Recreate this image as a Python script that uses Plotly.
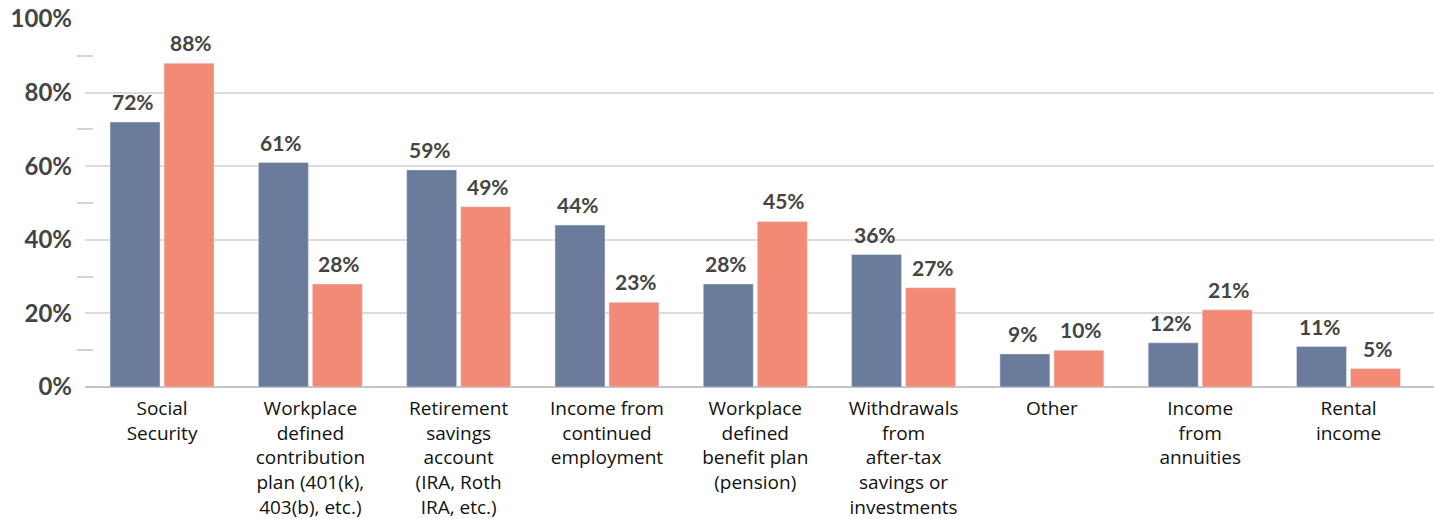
import plotly.graph_objects as go

categories = [
    "Social<br>Security",
    "Workplace<br>defined<br>contribution<br>plan (401(k),<br>403(b), etc.)",
    "Retirement<br>savings<br>account<br>(IRA, Roth<br>IRA, etc.)",
    "Income from<br>continued<br>employment",
    "Workplace<br>defined<br>benefit plan<br>(pension)",
    "Withdrawals<br>from<br>after-tax<br>savings or<br>investments",
    "Other",
    "Income<br>from<br>annuities",
    "Rental<br>income",
]
series_a = [72, 61, 59, 44, 28, 36, 9, 12, 11]
series_b = [88, 28, 49, 23, 45, 27, 10, 21, 5]
y_ticks = [0, 20, 40, 60, 80, 100]
y_tick_labels = ["0%", "20%", "40%", "60%", "80%", "100%"]
y_minor_ticks = [10, 30, 50, 70, 90]

color_a = "#6a7b9b"
color_b = "#f28a75"
bold_font = "Lato, 'Open Sans', sans-serif"
cat_font = "'Open Sans', Lato, sans-serif"

fig = go.Figure()
fig.add_trace(go.Bar(x=categories, y=series_a, marker_color=color_a, name="A", hoverinfo="skip"))
fig.add_trace(go.Bar(x=categories, y=series_b, marker_color=color_b, name="B", hoverinfo="skip"))

annotations = []
for vals, shift in ((series_a, -29), (series_b, 29)):
    for c, v in zip(categories, vals):
        annotations.append(dict(
            x=c, y=v, xref="x", yref="y", text=f"{v}%", showarrow=False,
            xshift=shift, yshift=6, yanchor="bottom",
            font=dict(family=bold_font, size=21, color="#444444", weight="bold"),
        ))

fig.update_layout(
    width=1434, height=519,
    margin=dict(l=85, r=0, t=19, b=132, autoexpand=False),
    paper_bgcolor="white", plot_bgcolor="white",
    showlegend=False,
    barmode="group", bargap=0.272, bargroupgap=0.074,
    annotations=annotations,
    xaxis=dict(
        type="category",
        range=[-0.5195, 8.5765],
        showgrid=False, ticks="", showline=False, zeroline=False,
        tickfont=dict(family=cat_font, size=19, color="#111111"),
        ticklabelstandoff=8,
    ),
    yaxis=dict(
        range=[0, 100],
        tickvals=y_ticks, ticktext=y_tick_labels,
        showgrid=True, gridcolor="#dcdcdc", gridwidth=2,
        zeroline=True, zerolinecolor="#c4c4c4", zerolinewidth=2,
        showline=False, ticks="",
        tickfont=dict(family=bold_font, size=24, color="#444444", weight="bold"),
        ticklabelstandoff=12,
    ),
    yaxis2=dict(
        range=[0, 100], overlaying="y", side="left", anchor="free", position=0.0059,
        showgrid=False, zeroline=False, showline=False, showticklabels=False,
        tickvals=y_minor_ticks, ticks="outside", ticklen=16, tickwidth=2, tickcolor="#d4d4d4",
    ),
)
# invisible trace so the minor-tick axis is drawn
fig.add_trace(go.Scatter(x=[categories[0]], y=[0], yaxis="y2", mode="markers",
                         marker=dict(opacity=0), hoverinfo="skip", showlegend=False))

fig.write_html("out.html")
